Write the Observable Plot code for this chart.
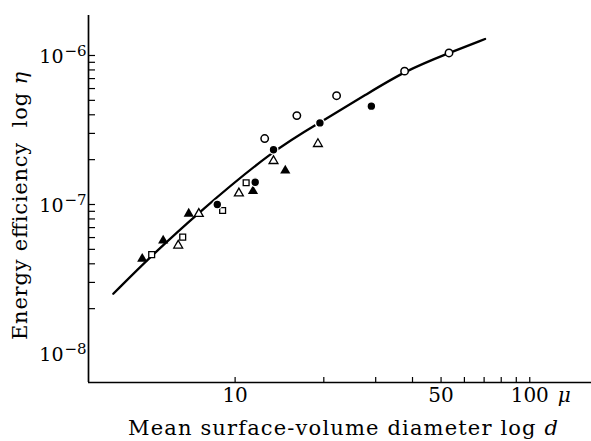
<!DOCTYPE html>
<html><head><meta charset="utf-8">
<script src="https://cdn.jsdelivr.net/npm/d3@7"></script>
<script src="https://cdn.jsdelivr.net/npm/@observablehq/plot@0.6"></script>
<style>body{margin:0;background:#fff} svg{display:block}</style>
</head><body><div id="chart"></div>
<script>
// ---- data ----
const filledTriD   = [4.84, 5.70, 6.96, 11.5, 14.8];
const filledTriEta = [4.32e-8, 5.73e-8, 8.67e-8, 1.23e-7, 1.69e-7];
const openSqD      = [5.21, 6.64, 9.07, 10.9];
const openSqEta    = [4.61e-8, 6.04e-8, 9.12e-8, 1.40e-7];
const openTriD     = [6.41, 7.53, 10.3, 13.5, 19.1];
const openTriEta   = [5.31e-8, 8.67e-8, 1.19e-7, 1.96e-7, 2.55e-7];
const filledCirD   = [8.70, 11.7, 13.5, 19.4, 29.0];
const filledCirEta = [1.00e-7, 1.41e-7, 2.33e-7, 3.53e-7, 4.57e-7];
const openCirD     = [12.6, 16.2, 22.1, 37.6, 53.2];
const openCirEta   = [2.77e-7, 3.95e-7, 5.37e-7, 7.85e-7, 1.04e-6];
const curveD       = [3.86, 5.21, 7.53, 13.5, 19.4, 28.1, 37.6, 53.2, 70.5];
const curveEta     = [2.52e-8, 4.55e-8, 8.87e-8, 2.33e-7, 3.55e-7, 5.53e-7, 7.85e-7, 1.04e-6, 1.29e-6];

const xTickValues = [10, 20, 30, 40, 50, 60, 70, 80, 90, 100];
const xTickLabels = [10, 50, 100];
const yTickValues = [2e-8,3e-8,4e-8,5e-8,6e-8,7e-8,8e-8,9e-8,1e-7,
                     2e-7,3e-7,4e-7,5e-7,6e-7,7e-7,8e-7,9e-7,1e-6];
const yTickLabels = [1e-8, 1e-7, 1e-6];
const yTickExponents = ["−8", "−7", "−6"];

const xDomain = [3.18, 162];
const yDomain = [6.39e-9, 1.855e-6];

const zip = (xs, ys) => xs.map((x, i) => ({x, y: ys[i]}));

const W = 591, H = 441, mL = 88, mR = 0, mT = 15, mB = 59;
const fw = W - mL - mR, fh = H - mT - mB;
const SERIF = "'DejaVu Serif', 'Liberation Serif', 'Times New Roman', 'Noto Serif', serif";

const chart = Plot.plot({
  width: W, height: H,
  marginLeft: mL, marginRight: mR, marginTop: mT, marginBottom: mB,
  x: {type: "log", domain: xDomain, axis: null},
  y: {type: "log", domain: yDomain, axis: null},
  style: {background: "white", color: "black", overflow: "visible"},
  marks: [
    Plot.ruleX([xDomain[0]], {stroke: "black", strokeWidth: 1.7}),
    Plot.ruleY([yDomain[0]], {stroke: "black", strokeWidth: 1.6}),
    Plot.ruleY(yTickValues, {stroke: "black", strokeWidth: 1.2, insetRight: fw - 7}),
    Plot.ruleX(xTickValues, {stroke: "black", strokeWidth: 1.2, insetTop: fh - 5}),
    Plot.line(zip(curveD, curveEta), {x: "x", y: "y", curve: "basis", stroke: "black", strokeWidth: 2.3}),
    Plot.dot(zip(filledTriD, filledTriEta), {x: "x", y: "y", symbol: "triangle", r: 3.8, fill: "black", stroke: "none"}),
    Plot.dot(zip(openTriD, openTriEta), {x: "x", y: "y", symbol: "triangle", r: 3.3, fill: "white", stroke: "black", strokeWidth: 1.3}),
    Plot.dot(zip(openSqD, openSqEta), {x: "x", y: "y", symbol: "square", r: 3.3, fill: "white", stroke: "black", strokeWidth: 1.3}),
    Plot.dot(zip(filledCirD, filledCirEta), {x: "x", y: "y", symbol: "circle", r: 4.4, fill: "black", stroke: "white", strokeWidth: 1.4}),
    Plot.dot(zip(openCirD, openCirEta), {x: "x", y: "y", symbol: "circle", r: 3.7, fill: "white", stroke: "black", strokeWidth: 1.5}),
    Plot.text(yTickLabels, {y: d => d, frameAnchor: "left", text: () => "10", textAnchor: "end", dx: -25, dy: 1.5, fontSize: 19, fill: "black", fontFamily: SERIF}),
    Plot.text(yTickLabels, {y: d => d, frameAnchor: "left", text: (d, i) => yTickExponents[i], textAnchor: "start", dx: -24, dy: -4, fontSize: 15, fill: "black", fontFamily: SERIF}),
    Plot.text(xTickLabels, {x: d => d, frameAnchor: "bottom", text: d => String(d), dy: 19, fontSize: 20, fill: "black", fontFamily: SERIF}),
    Plot.text([xTickLabels[xTickLabels.length - 1]], {x: d => d, frameAnchor: "bottom", text: () => "μ", textAnchor: "start", dx: 28, dy: 19, fontSize: 20, fontStyle: "italic", fill: "black", fontFamily: SERIF})
  ]
});

const svg = d3.select(chart);
const xt = svg.append("text")
  .attr("x", 128).attr("y", 435)
  .attr("text-anchor", "start")
  .attr("font-size", 21).attr("fill", "black")
  .attr("textLength", 430).attr("lengthAdjust", "spacing");
xt.append("tspan").text("Mean surface-volume diameter log ");
xt.append("tspan").attr("font-style", "italic").text("d");
const yt = svg.append("text")
  .attr("transform", "translate(27,340) rotate(-90)")
  .attr("text-anchor", "start")
  .attr("font-size", 21).attr("fill", "black")
  .attr("textLength", 268).attr("lengthAdjust", "spacing");
yt.append("tspan").text("Energy efficiency  log ");
yt.append("tspan").attr("font-style", "italic").text("η");

svg.style("font-family", SERIF);
svg.selectAll("text, tspan").style("font-family", SERIF);

document.getElementById("chart").appendChild(chart);
</script>
</body></html>
